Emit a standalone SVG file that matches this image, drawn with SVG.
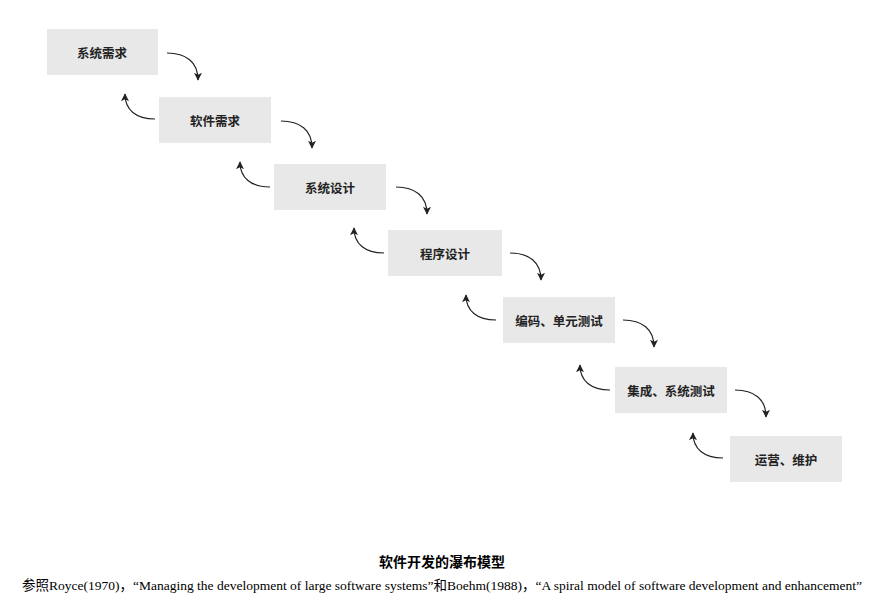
<svg xmlns="http://www.w3.org/2000/svg" width="884" height="600" viewBox="0 0 884 600">
<style>
.box{fill:#e8e8e8;stroke:none}
.lbl{font-family:"Noto Sans CJK SC","Liberation Sans",sans-serif;font-size:12.5px;font-weight:bold;fill:#222;text-anchor:middle;dominant-baseline:central}
.con{fill:none;stroke:#222;stroke-width:1.2}
.cap{font-family:"Noto Sans CJK SC",sans-serif;font-size:14px;font-weight:bold;fill:#000;text-anchor:middle}
.ref{font-family:"Liberation Serif","Noto Sans CJK SC",serif;font-size:13.5px;fill:#000}
</style>
<defs>
<marker id="ah" viewBox="0 0 10 10" refX="9" refY="5" markerWidth="8" markerHeight="8" markerUnits="userSpaceOnUse" orient="auto">
<path d="M0,0 L10,5 L0,10 L2.5,5 Z" fill="#222"/>
</marker>
</defs>
<rect width="884" height="600" fill="#fff"/>
<g id="n1"><rect class="box" x="47" y="29" width="111" height="46"/><text class="lbl" x="102" y="52">系统需求</text></g>
<g id="n2"><rect class="box" x="159" y="97" width="112" height="46"/><text class="lbl" x="215" y="120">软件需求</text></g>
<g id="n3"><rect class="box" x="274" y="164" width="112" height="46"/><text class="lbl" x="330" y="187">系统设计</text></g>
<g id="n4"><rect class="box" x="388" y="230" width="114" height="46"/><text class="lbl" x="445" y="253">程序设计</text></g>
<g id="n5"><rect class="box" x="503" y="297" width="112" height="46"/><text class="lbl" x="559" y="320">编码、单元测试</text></g>
<g id="n6"><rect class="box" x="615" y="367" width="112" height="46"/><text class="lbl" x="671" y="390">集成、系统测试</text></g>
<g id="n7"><rect class="box" x="730" y="436" width="112" height="46"/><text class="lbl" x="786" y="459">运营、维护</text></g>
<g id="connectors">
<path class="con" marker-end="url(#ah)" d="M167,53 C186,53 198,62 198,80"/>
<path class="con" marker-end="url(#ah)" d="M281,121 C300,121 312,130 312,148"/>
<path class="con" marker-end="url(#ah)" d="M396,187 C415,187 427,196 427,214"/>
<path class="con" marker-end="url(#ah)" d="M510,253 C529,253 541,262 541,280"/>
<path class="con" marker-end="url(#ah)" d="M623,320 C642,320 654,329 654,347"/>
<path class="con" marker-end="url(#ah)" d="M735,390 C754,390 766,399 766,417"/>
<path class="con" marker-end="url(#ah)" d="M155,119 C136,119 125,110 125,94"/>
<path class="con" marker-end="url(#ah)" d="M270,187 C251,187 240,178 240,162"/>
<path class="con" marker-end="url(#ah)" d="M384,253 C365,253 354,244 354,228"/>
<path class="con" marker-end="url(#ah)" d="M496,320 C477,320 466,311 466,295"/>
<path class="con" marker-end="url(#ah)" d="M610,390 C591,390 580,381 580,365"/>
<path class="con" marker-end="url(#ah)" d="M723,458 C704,458 693,449 693,433"/>
</g>
<text class="cap" x="442" y="567">软件开发的瀑布模型</text>
<text class="ref" x="22" y="590" textLength="840" lengthAdjust="spacingAndGlyphs">参照Royce(1970)，“Managing the development of large software systems”和Boehm(1988)，“A spiral model of software development and enhancement”</text>
</svg>
